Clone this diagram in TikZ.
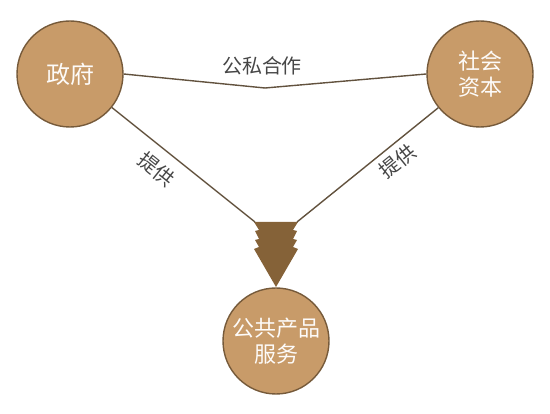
\documentclass[tikz,border=0pt]{standalone}
\usepackage{fontspec}
\newfontfamily\cjk{Noto Sans CJK SC}
\definecolor{T}{RGB}{200, 155, 105}
\definecolor{D}{RGB}{118, 90, 58}
\definecolor{A}{RGB}{133, 98, 56}
\definecolor{L}{RGB}{98, 82, 62}
\definecolor{K}{RGB}{70, 70, 70}
\tikzset{
  party/.style={circle, fill=T, draw=D, line width=1.4pt, minimum size=106pt,
    inner sep=0pt, align=center, text=white!96!T,
    font=\cjk\fontsize{22}{26}\selectfont},
  link/.style={draw=L, line width=1.4pt},
  tag/.style={text=K, font=\cjk\fontsize{20}{24}\selectfont}
}

\begin{document}
\begin{tikzpicture}[x=1pt, y=-1pt]
  \useasboundingbox (0,0) rectangle (550,414);

  \node[party, font=\cjk\fontsize{24}{28}\selectfont] (gov) at (70,74) {政府};
  \node[party] (cap) at (480,74) {社会\\资本};
  \node[party] (pub) at (276,341) {公共产品\\服务};

  \coordinate (mid) at (265,88);
  \coordinate (arrowL) at (255,222);
  \coordinate (arrowR) at (297,222);
  \coordinate (tip) at (276,287);

  % arrow head
  \fill[color=A] (254,222) -- (259,230) -- (255,231) -- (259,239) -- (255,240)
    -- (259,247) -- (254,249) -- (tip) -- (298,249) -- (293,247) -- (297,240)
    -- (293,239) -- (297,231) -- (293,230) -- (298,222) -- cycle;

  \draw[link] (gov.east) -- (mid) -- (cap.west);
  \node[tag] (coop) at (262,66) {公私合作};

  \draw[link] (gov) -- node[tag, sloped, below=7pt, pos=0.4] (giveL) {提供} (arrowL);
  \draw[link] (arrowR) -- node[tag, sloped, below=3pt, pos=0.64] (giveR) {提供} (cap);
\end{tikzpicture}
\end{document}
